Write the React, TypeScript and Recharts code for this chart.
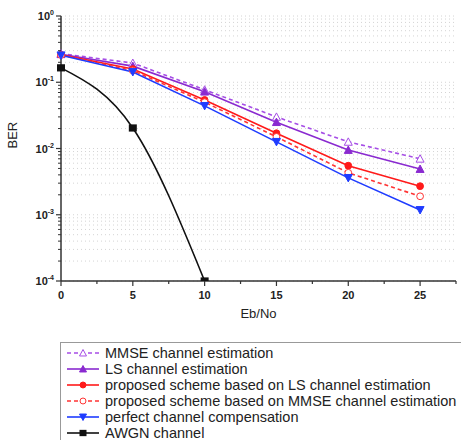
import { LineChart, Line, XAxis, YAxis, CartesianGrid } from "recharts";

const ebno = [0, 5, 10, 15, 20, 25];
const mmse = [0.27, 0.195, 0.077, 0.03, 0.0126, 0.007];
const ls = [0.265, 0.175, 0.072, 0.025, 0.0095, 0.0049];
const propLs = [0.26, 0.158, 0.054, 0.017, 0.0055, 0.0027];
const propMmse = [0.258, 0.15, 0.05, 0.015, 0.0043, 0.0019];
const perfect = [0.255, 0.143, 0.044, 0.0126, 0.0036, 0.00118];
const awgn = [0.165, 0.0204, 0.0001, null, null, null];

const xTicks = [0, 2.5, 5, 7.5, 10, 12.5, 15, 17.5, 20, 22.5, 25, 27.5];
const decades = [-4, -3, -2, -1];
const yTicks: number[] = [];
decades.forEach((d) => {
  for (let m = 1; m < 10; m++) yTicks.push(m * Math.pow(10, d));
});
yTicks.push(1);

const series = [
  { key: "mmse", name: "MMSE channel estimation", color: "#a64ee6", dash: "4 3", shape: "triUpOpen", values: mmse },
  { key: "ls", name: "LS channel estimation", color: "#8a2ad0", dash: "", shape: "triUp", values: ls },
  { key: "propLs", name: "proposed scheme based on LS channel estimation", color: "#ff1a1a", dash: "", shape: "circle", values: propLs },
  { key: "propMmse", name: "proposed scheme based on MMSE channel estimation", color: "#ff3333", dash: "4 3", shape: "circleOpen", values: propMmse },
  { key: "perfect", name: "perfect channel compensation", color: "#1f3cff", dash: "", shape: "triDown", values: perfect },
  { key: "awgn", name: "AWGN channel", color: "#111111", dash: "", shape: "square", values: awgn },
];

const data = ebno.map((x, i) => {
  const row: Record<string, any> = { x };
  series.forEach((s) => (row[s.key] = s.values[i]));
  return row;
});

function marker(shape: string, cx: number, cy: number, color: string, r: number, key?: any) {
  const h = r * 0.85;
  switch (shape) {
    case "triUpOpen":
      return <path key={key} d={`M${cx},${cy - r}L${cx + r},${cy + h}L${cx - r},${cy + h}Z`} fill="#fff" stroke={color} strokeWidth={1} />;
    case "triUp":
      return <path key={key} d={`M${cx},${cy - r}L${cx + r},${cy + h}L${cx - r},${cy + h}Z`} fill={color} stroke={color} strokeWidth={1} />;
    case "triDown":
      return <path key={key} d={`M${cx},${cy + r}L${cx + r},${cy - h}L${cx - r},${cy - h}Z`} fill={color} stroke={color} strokeWidth={1} />;
    case "circle":
      return <circle key={key} cx={cx} cy={cy} r={r * 0.85} fill={color} stroke={color} />;
    case "circleOpen":
      return <circle key={key} cx={cx} cy={cy} r={r * 0.85} fill="#fff" stroke={color} strokeWidth={1} />;
    default:
      return <rect key={key} x={cx - r} y={cy - r * 0.9} width={r * 2} height={r * 1.8} fill={color} />;
  }
}

const isDecade = (v: number) => Math.abs(Math.log10(v) - Math.round(Math.log10(v))) < 1e-6;

const YTick = (props: any) => {
  const { x, y, payload } = props;
  const v = payload.value;
  const major = isDecade(v);
  const exp = Math.round(Math.log10(v));
  return (
    <g>
      <line x1={x} x2={x - (major ? 5 : 3)} y1={y} y2={y} stroke="#333" strokeWidth={major ? 1.2 : 1} />
      {major && (
        <text x={x - 7} y={y + 4} textAnchor="end" fontSize={11} fontWeight="bold" fill="#222" fontFamily="Liberation Sans, Arial">
          10<tspan dy={-5} fontSize={7}>{exp}</tspan>
        </text>
      )}
    </g>
  );
};

const XTick = (props: any) => {
  const { x, y, payload } = props;
  const v = payload.value;
  const major = v % 5 === 0;
  return (
    <g>
      <line x1={x} x2={x} y1={y} y2={y + (major ? 5 : 3)} stroke="#333" strokeWidth={1.2} />
      {major && (
        <text x={x} y={y + 18} textAnchor="middle" fontSize={11} fontWeight="bold" fill="#222" fontFamily="Liberation Sans, Arial">
          {v}
        </text>
      )}
    </g>
  );
};

function LegendBox() {
  return (
    <div
      style={{
        position: "absolute",
        left: 60,
        top: 342,
        width: 401,
        height: 98,
        borderLeft: "1px solid #999",
        borderTop: "1px solid #999",
        boxSizing: "border-box",
        paddingTop: 2,
        fontFamily: "Liberation Sans, Arial, sans-serif",
        fontSize: 14.5,
        color: "#222",
        whiteSpace: "nowrap",
      }}
    >
      {series.map((s) => (
        <div key={s.key} style={{ display: "flex", alignItems: "center", height: 16 }}>
          <svg width={36} height={16} style={{ marginLeft: 4, marginRight: 4, flex: "none" }}>
            <line x1={2} x2={34} y1={8} y2={8} stroke={s.color} strokeWidth={1.6} strokeDasharray={s.dash || undefined} />
            {marker(s.shape, 18, 8, s.color, 3.5)}
          </svg>
          <span>{s.name}</span>
        </div>
      ))}
    </div>
  );
}

export default function App() {
  return (
    <div style={{ position: "absolute", left: 0, top: 0, width: 462, height: 440, background: "#fff", overflow: "hidden" }}>
      <LineChart width={462} height={440} data={data} margin={{ top: 16, right: 6, left: 0, bottom: 0 }}>
        <CartesianGrid vertical={false} stroke="#d4d4d4" strokeDasharray="1 3" />
        <XAxis
          dataKey="x"
          type="number"
          domain={[0, 27.5]}
          ticks={xTicks}
          interval={0}
          height={159}
          tickSize={0}
          tickMargin={0}
          tickLine={false}
          tick={XTick}
          stroke="#333"
          strokeWidth={1.5}
          label={{ value: "Eb/No", position: "insideTop", offset: 28, fontSize: 13, fill: "#222", fontFamily: "Liberation Sans, Arial" }}
        />
        <YAxis
          type="number"
          scale="log"
          domain={[0.0001, 1]}
          allowDataOverflow
          ticks={yTicks}
          interval={0}
          width={61}
          tickSize={0}
          tickMargin={0}
          tickLine={false}
          tick={YTick}
          stroke="#333"
          strokeWidth={1.5}
          label={{ value: "BER", angle: -90, position: "insideLeft", offset: 12, fontSize: 13, fill: "#222", fontFamily: "Liberation Sans, Arial" }}
        />
        {series.map((s) => (
          <Line
            key={s.key}
            type={s.key === "awgn" ? "monotone" : "linear"}
            dataKey={s.key}
            stroke={s.color}
            strokeWidth={1.6}
            strokeDasharray={s.dash || undefined}
            connectNulls={false}
            isAnimationActive={false}
            dot={(p: any) =>
              p.cx == null || p.cy == null || p.value == null ? <g key={`${s.key}-${p.index}`} /> : marker(s.shape, p.cx, p.cy, s.color, 4, `${s.key}-${p.index}`)
            }
          />
        ))}
      </LineChart>
      <LegendBox />
    </div>
  );
}
